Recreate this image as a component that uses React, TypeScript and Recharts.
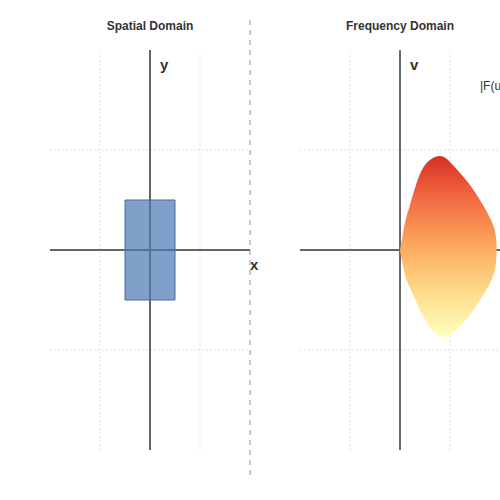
import React from "react";
import { ComposedChart, Area, XAxis, YAxis, ReferenceLine, ReferenceArea } from "recharts";

// grid positions (same for both panels)
const gridTicks = [-1, 1];

// spatial domain: unit box centred on the origin
const rectX = [-0.5, 0.5];
const rectY = [-0.5, 0.5];

// frequency domain: magnitude blob, upper and lower edge per u
const blobU = [0, 0.05, 0.1, 0.2, 0.3, 0.4, 0.5, 0.6, 0.7, 0.8, 0.9, 1.0, 1.2, 1.4, 1.6, 1.7, 1.8, 1.86, 1.9, 1.925, 1.934];
const blobUpper = [0, 0.14, 0.27, 0.45, 0.62, 0.76, 0.85, 0.9, 0.93, 0.94, 0.925, 0.88, 0.77, 0.65, 0.5, 0.415, 0.32, 0.25, 0.185, 0.1, 0];
const blobLower = [0, -0.14, -0.25, -0.38, -0.49, -0.6, -0.69, -0.77, -0.83, -0.86, -0.87, -0.85, -0.76, -0.65, -0.5, -0.42, -0.33, -0.26, -0.19, -0.1, 0];

const blobData = blobU.map((u, i) => ({ u, range: [blobLower[i], blobUpper[i]] }));

const titleStyle = { fontFamily: "Liberation Sans, Arial, sans-serif", fontSize: 12, fontWeight: 700, fill: "#333" };
const axisLabelStyle = { fontFamily: "Liberation Sans, Arial, sans-serif", fontSize: 15, fontWeight: 700, fill: "#333" };

function gridLines() {
  return [
    ...gridTicks.map((t) => (
      <ReferenceLine key={"gx" + t} x={t} stroke="#e2e2e2" strokeDasharray="2 2" zIndex={10} />
    )),
    ...gridTicks.map((t) => (
      <ReferenceLine key={"gy" + t} y={t} stroke="#e2e2e2" strokeDasharray="2 2" zIndex={10} />
    )),
  ];
}

export default function App() {
  return (
    <div style={{ position: "absolute", left: 0, top: 0, width: 500, height: 500, overflow: "hidden", background: "#fff" }}>
      <div style={{ position: "absolute", left: 0, top: 0 }}>
        <ComposedChart width={270} height={500} data={[]} margin={{ top: 50, right: 20, bottom: 50, left: 50 }}>
          <XAxis type="number" dataKey="u" domain={[-2, 2]} hide allowDataOverflow />
          <YAxis type="number" domain={[-2, 2]} hide allowDataOverflow />
          {gridLines()}
          <ReferenceLine x={0} stroke="#666" strokeWidth={2} zIndex={50} />
          <ReferenceLine y={0} stroke="#666" strokeWidth={2} zIndex={50} />
          <ReferenceArea
            x1={rectX[0]}
            x2={rectX[1]}
            y1={rectY[0]}
            y2={rectY[1]}
            fill="#4a78b2"
            fillOpacity={0.7}
            stroke="#4a6f9e"
            strokeWidth={1}
            zIndex={150}
          />
          <text x={150} y={30} textAnchor="middle" style={titleStyle}>Spatial Domain</text>
          <text x={160} y={70} style={axisLabelStyle}>y</text>
          <text x={250} y={270} style={axisLabelStyle}>x</text>
          <line x1={250} y1={20} x2={250} y2={476} stroke="#c8c8c8" strokeWidth={2} strokeDasharray="5 5" />
        </ComposedChart>
      </div>
      <div style={{ position: "absolute", left: 250, top: 0 }}>
        <ComposedChart width={250} height={500} data={blobData} margin={{ top: 50, right: 0, bottom: 50, left: 50 }}>
          <defs>
            <linearGradient id="magFill" x1="0" y1="0" x2="0" y2="1">
              <stop offset="0" stopColor="#d73027" />
              <stop offset="0.25" stopColor="#f46d43" />
              <stop offset="0.52" stopColor="#fdae61" />
              <stop offset="0.78" stopColor="#fee090" />
              <stop offset="1" stopColor="#ffffbf" />
            </linearGradient>
          </defs>
          <XAxis type="number" dataKey="u" domain={[-2, 2]} hide allowDataOverflow />
          <YAxis type="number" domain={[-2, 2]} hide allowDataOverflow />
          {gridLines()}
          <ReferenceLine x={0} stroke="#666" strokeWidth={2} zIndex={50} />
          <ReferenceLine y={0} stroke="#666" strokeWidth={2} zIndex={50} />
          <Area
            type="monotone"
            dataKey="range"
            stroke="none"
            fill="url(#magFill)"
            fillOpacity={1}
            isAnimationActive={false}
            dot={false}
            activeDot={false}
          />
          <text x={150} y={30} textAnchor="middle" style={titleStyle}>Frequency Domain</text>
          <text x={160} y={70} style={axisLabelStyle}>v</text>
          <text x={230} y={90} style={{ ...titleStyle, fontWeight: 400 }}>|F(u,v)|</text>
        </ComposedChart>
      </div>
    </div>
  );
}
